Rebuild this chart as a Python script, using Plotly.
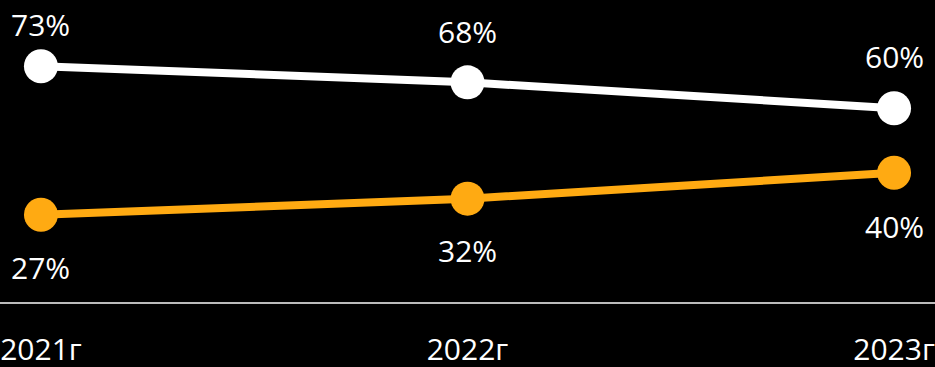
import plotly.graph_objects as go

categories = ["2021г", "2022г", "2023г"]
white_values = [73, 68, 60]
orange_values = [27, 32, 40]
white_labels = ["73%", "68%", "60%"]
orange_labels = ["27%", "32%", "40%"]

FONT = "Open Sans, Noto Sans, sans-serif"
x = list(range(len(categories)))

fig = go.Figure()
fig.add_trace(go.Scatter(x=x, y=orange_values, mode="lines+markers",
                         line=dict(color="#FFAA12", width=8),
                         marker=dict(color="#FFAA12", size=34), hoverinfo="skip"))
fig.add_trace(go.Scatter(x=x, y=white_values, mode="lines+markers",
                         line=dict(color="#FFFFFF", width=8),
                         marker=dict(color="#FFFFFF", size=34), hoverinfo="skip"))

white_shift = [42, 51, 52]
orange_shift = [-53, -52, -54]
for i in x:
    fig.add_annotation(x=i, y=white_values[i], text=white_labels[i], showarrow=False,
                       yshift=white_shift[i], font=dict(size=30, color="white", family=FONT))
    fig.add_annotation(x=i, y=orange_values[i], text=orange_labels[i], showarrow=False,
                       yshift=orange_shift[i], font=dict(size=30, color="white", family=FONT))

fig.update_layout(
    width=935, height=367,
    margin=dict(l=0, r=0, t=0, b=65),
    paper_bgcolor="black", plot_bgcolor="black",
    showlegend=False,
    xaxis=dict(range=[-0.096, 2.096], tickvals=x, ticktext=categories,
               showgrid=False, zeroline=False, showline=True, linecolor="#BBBBBB",
               linewidth=2, ticks="", ticklabelstandoff=20, automargin=False,
               ticklabeloverflow="allow",
               tickfont=dict(size=30, color="white", family=FONT), fixedrange=True),
    yaxis=dict(range=[0, 93.5], visible=False, fixedrange=True, automargin=False),
)

fig.write_html("out.html")
